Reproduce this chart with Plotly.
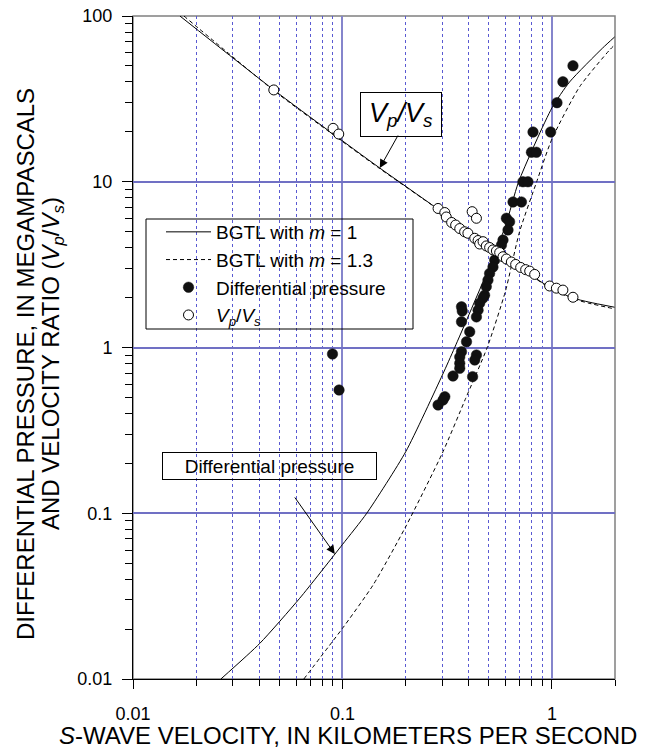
import numpy as np
import plotly.graph_objects as go

# ---------------- data ----------------
# BGTL model, m = 1 : differential pressure vs S-wave velocity
vs_p_m1 = [0.02627, 0.0403, 0.0625, 0.1, 0.1306, 0.2004, 0.3, 0.3434, 0.5, 0.6, 0.6935, 1.0, 1.214, 1.746, 1.991]
p_m1 = [0.01, 0.0164, 0.0307, 0.0648, 0.1, 0.235, 0.683, 1.0, 3.02, 5.41, 10.0, 27.9, 40.0, 64.1, 74.7]
# BGTL model, m = 1 : Vp/Vs vs S-wave velocity
vs_r_m1 = [0.01675, 0.047, 0.0851, 0.1507, 0.282, 0.505, 0.70, 0.975, 1.256, 1.5, 1.99]
r_m1 = [100, 35.8, 20.5, 12.1, 6.92, 4.06, 3.05, 2.31, 1.99, 1.88, 1.75]
# BGTL model, m = 1.3 : differential pressure
vs_p_m13 = [0.0654, 0.0895, 0.1, 0.14, 0.2, 0.3, 0.3877, 0.4909, 0.6, 0.7, 0.8455, 1.0, 1.356, 1.885, 1.99]
p_m13 = [0.01, 0.0168, 0.0202, 0.0369, 0.0826, 0.231, 0.494, 1.0, 2.19, 4.98, 10.0, 18.1, 37.45, 62.4, 66.8]
# BGTL model, m = 1.3 : Vp/Vs
vs_r_m13 = [0.0175, 0.047, 0.0851, 0.1507, 0.282, 0.505, 0.70, 0.975, 1.256, 1.5, 1.99]
r_m13 = [100, 35.5, 20.3, 12.0, 6.9, 4.05, 3.04, 2.29, 1.97, 1.85, 1.71]

# measured differential pressure
vs_dp = [1.260, 1.128, 1.057, 0.812, 0.986, 0.798, 0.843, 0.727, 0.768, 0.652, 0.715, 0.606, 0.628,
         0.617, 0.584, 0.574, 0.553, 0.533, 0.523, 0.504, 0.495, 0.486, 0.477, 0.469, 0.452, 0.444,
         0.436, 0.370, 0.373, 0.370, 0.405, 0.391, 0.370, 0.363, 0.363, 0.363, 0.436, 0.428, 0.418,
         0.337, 0.308, 0.302, 0.286, 0.0896, 0.0963]
dp = [50.1, 40.1, 30.0, 19.96, 19.96, 15.06, 15.06, 10.0, 10.0, 7.55, 7.55, 6.02, 5.74,
      5.12, 4.45, 4.15, 3.70, 3.37, 3.06, 2.80, 2.55, 2.33, 2.07, 1.99, 1.85, 1.68,
      1.53, 1.76, 1.66, 1.43, 1.245, 1.084, 0.943, 0.876, 0.803, 0.749, 0.901, 0.841, 0.667,
      0.673, 0.505, 0.482, 0.450, 0.914, 0.554]
# measured Vp/Vs
vs_ratio = [0.0470, 0.0902, 0.0960, 0.286, 0.308, 0.313, 0.332, 0.347, 0.363, 0.383, 0.397, 0.416,
            0.436, 0.428, 0.444, 0.452, 0.469, 0.486, 0.504, 0.523, 0.543, 0.563, 0.584, 0.606,
            0.640, 0.671, 0.709, 0.749, 0.783, 0.827, 0.975, 1.050, 1.128, 1.260]
ratio = [35.8, 21.0, 19.4, 6.90, 6.52, 6.13, 5.68, 5.48, 5.22, 4.99, 4.89, 6.60,
         6.02, 4.56, 4.42, 4.21, 4.35, 4.10, 4.01, 3.88, 3.82, 3.74, 3.53, 3.42,
         3.28, 3.17, 3.04, 2.95, 2.89, 2.76, 2.35, 2.28, 2.22, 2.01]

x_tick_vals = [0.01, 0.1, 1]
x_tick_text = ["0.01", "0.1", "1"]
y_tick_vals = [0.01, 0.1, 1, 10, 100]
y_tick_text = ["0.01", "0.1", "1", "10", "100"]

# annotation anchor values
arrow_ratio_tip = (0.1507, 12.1)
arrow_press_tip = (0.0919, 0.0568)

FONT = "Liberation Sans, Arial, Helvetica, sans-serif"

# layout geometry (pixels)
W, H = 647, 749
ML, MR, MT, MB = 133, 32, 16, 70
PW, PH = W - ML - MR, H - MT - MB


def px_to_paper(px, py):
    return (px - ML) / PW, 1 - (py - MT) / PH


fig = go.Figure()

line_style = dict(color="black", width=1)
dash_style = dict(color="black", width=1, dash="4px,3px")
fig.add_trace(go.Scatter(x=vs_p_m1, y=p_m1, mode="lines", name="BGTL with <i>m</i> = 1",
                         legendgroup="m1", line=dict(**line_style, shape="spline", smoothing=0.6)))
fig.add_trace(go.Scatter(x=vs_r_m1, y=r_m1, mode="lines", name="m1r", showlegend=False,
                         legendgroup="m1", line=dict(**line_style, shape="spline", smoothing=0.6)))
fig.add_trace(go.Scatter(x=vs_p_m13, y=p_m13, mode="lines", name="BGTL with <i>m</i> = 1.3",
                         legendgroup="m13", line=dict(**dash_style, shape="spline", smoothing=0.6)))
fig.add_trace(go.Scatter(x=vs_r_m13, y=r_m13, mode="lines", name="m13r", showlegend=False,
                         legendgroup="m13", line=dict(**dash_style, shape="spline", smoothing=0.6)))
fig.add_trace(go.Scatter(x=vs_dp, y=dp, mode="markers", name="Differential pressure",
                         marker=dict(symbol="circle", size=10.5, color="#111111",
                                     line=dict(color="#111111", width=0.5))))
fig.add_trace(go.Scatter(x=vs_ratio, y=ratio, mode="markers",
                         name="<i>V<sub>p</sub></i>/<i>V<sub>s</sub></i>",
                         marker=dict(symbol="circle", size=10, color="white",
                                     line=dict(color="black", width=1))))

fig.update_xaxes(
    type="log", range=[np.log10(0.01), np.log10(2)], automargin=False,
    tickmode="array", tickvals=x_tick_vals, ticktext=x_tick_text,
    ticks="outside", ticklen=9, tickwidth=1, tickcolor="black",
    tickfont=dict(size=18, color="black", family=FONT), ticklabelstandoff=9,
    showline=True, linecolor="black", linewidth=1,
    showgrid=True, gridcolor="#8585cc", gridwidth=1.5,
    minor=dict(tickmode="linear", dtick="D1", ticks="outside", ticklen=6, tickcolor="black",
               showgrid=True, gridcolor="#5a5ad2", gridwidth=1, griddash="dot"),
    zeroline=False,
)
fig.update_yaxes(
    type="log", range=[-2, 2], automargin=False,
    tickmode="array", tickvals=y_tick_vals, ticktext=y_tick_text,
    ticks="outside", ticklen=10, tickwidth=1, tickcolor="black",
    tickfont=dict(size=18, color="black", family=FONT), ticklabelstandoff=6,
    showline=True, linecolor="black", linewidth=1,
    showgrid=True, gridcolor="#7070c4", gridwidth=1.5,
    minor=dict(tickmode="linear", dtick="D1", ticks="outside", ticklen=7, tickcolor="black",
               showgrid=False),
    zeroline=False,
)

# frame and darker 0.1 gridline (between gridlines and traces)
fig.add_shape(type="rect", xref="paper", yref="paper", x0=0, x1=1, y0=0, y1=1,
              line=dict(color="#808080", width=1.5), layer="between")
fig.add_shape(type="line", xref="paper", yref="y", x0=0, x1=1, y0=0.1, y1=0.1,
              line=dict(color="#22228a", width=1.3), layer="between")

# legend frame (transparent, like the reference)
lx0, ly0 = px_to_paper(146, 329)
lx1, ly1 = px_to_paper(413, 219)
fig.add_shape(type="rect", xref="paper", yref="paper", x0=lx0, x1=lx1, y0=ly0, y1=ly1,
              line=dict(color="black", width=1), layer="above")
leg_x, leg_y = px_to_paper(161, 213)

# axis titles as annotations
tx, ty = px_to_paper(348, 735)
fig.add_annotation(xref="paper", yref="paper", x=tx, y=ty, showarrow=False,
                   text="<i>S</i>-WAVE VELOCITY, IN KILOMETERS PER SECOND",
                   font=dict(size=24, color="black", family=FONT),
                   xanchor="center", yanchor="middle")
t1x, t1y = px_to_paper(25, 364)
fig.add_annotation(xref="paper", yref="paper", x=t1x, y=t1y, showarrow=False, textangle=-90,
                   text="DIFFERENTIAL PRESSURE, IN MEGAMPASCALS",
                   font=dict(size=24, color="black", family=FONT),
                   xanchor="center", yanchor="middle")
t2x, t2y = px_to_paper(52, 364)
fig.add_annotation(xref="paper", yref="paper", x=t2x, y=t2y, showarrow=False, textangle=-90,
                   text="AND VELOCITY RATIO (<i>V<sub>p</sub></i>/<i>V<sub>s</sub></i>)",
                   font=dict(size=24, color="black", family=FONT),
                   xanchor="center", yanchor="middle")

# text boxes
bx, by = px_to_paper(401, 114.5)
fig.add_annotation(xref="paper", yref="paper", x=bx, y=by, showarrow=False,
                   text="<i>V<sub>p</sub>/V<sub>s</sub></i>", width=78, height=41,
                   font=dict(size=27, color="black", family=FONT),
                   bordercolor="black", borderwidth=1,
                   xanchor="center", yanchor="middle")
dx, dy = px_to_paper(269.5, 466)
fig.add_annotation(xref="paper", yref="paper", x=dx, y=dy, showarrow=False,
                   text="Differential pressure", width=211, height=24,
                   font=dict(size=19, color="black", family=FONT),
                   bordercolor="black", borderwidth=1,
                   xanchor="center", yanchor="middle")
# arrows
fig.add_annotation(x=np.log10(arrow_ratio_tip[0]), y=np.log10(arrow_ratio_tip[1]),
                   xref="x", yref="y", text="", showarrow=True, ax=19, ay=-34,
                   arrowhead=2, arrowsize=1.7, arrowwidth=1, arrowcolor="black", standoff=0)
fig.add_annotation(x=np.log10(arrow_press_tip[0]), y=np.log10(arrow_press_tip[1]),
                   xref="x", yref="y", text="", showarrow=True, ax=-41, ay=-58,
                   arrowhead=2, arrowsize=1.7, arrowwidth=1, arrowcolor="black", standoff=0)

fig.update_layout(
    width=W, height=H,
    margin=dict(l=ML, r=MR, t=MT, b=MB, autoexpand=False),
    paper_bgcolor="white", plot_bgcolor="white",
    font=dict(family=FONT, color="black"),
    showlegend=True,
    legend=dict(x=leg_x, y=leg_y, xanchor="left", yanchor="top",
                borderwidth=0, bgcolor="rgba(0,0,0,0)",
                font=dict(size=19, color="black", family=FONT),
                itemwidth=45, tracegroupgap=0, traceorder="normal"),
)

fig.write_html("out.html")
